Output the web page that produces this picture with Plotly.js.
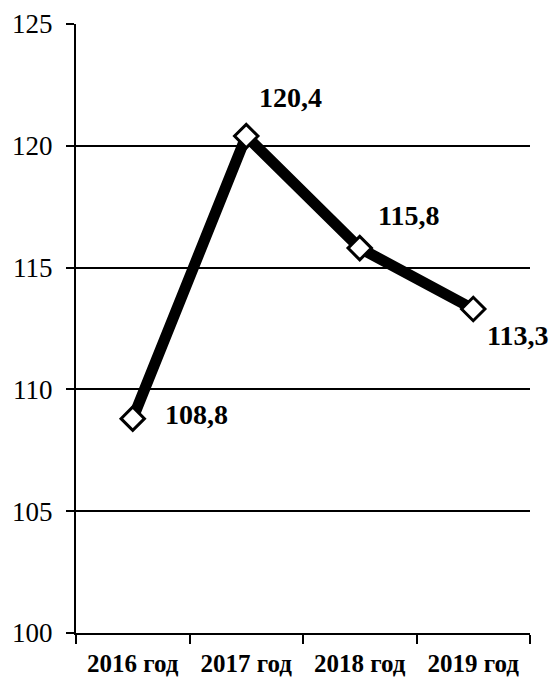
<!DOCTYPE html>
<html>
<head>
<meta charset="utf-8">
<script src="https://cdn.plot.ly/plotly-3.0.1.min.js"></script>
<style>html,body{margin:0;padding:0;background:#fff;}#chart{width:551px;height:679px;}</style>
</head>
<body>
<div id="chart"></div>
<script>
var categories = ["2016 год", "2017 год", "2018 год", "2019 год"];
var values = [108.8, 120.4, 115.8, 113.3];
var valueLabels = ["108,8", "120,4", "115,8", "113,3"];
var yTicks = [100, 105, 110, 115, 120, 125];

var labelOffsets = [[64, 4], [44, 39], [49, 33], [44, -26]];

var trace = {
  x: categories,
  y: values,
  type: "scatter",
  mode: "lines+markers",
  line: {color: "#000", width: 11},
  marker: {symbol: "diamond", size: 18, color: "#fff", line: {color: "#000", width: 3}},
  hoverinfo: "none"
};

var annotations = categories.map(function (c, i) {
  return {
    x: c, y: values[i], xref: "x", yref: "y",
    text: valueLabels[i], showarrow: false,
    xshift: labelOffsets[i][0], yshift: labelOffsets[i][1],
    font: {family: "Liberation Serif, Times New Roman, serif", size: 28, color: "#000", weight: "bold"}
  };
});

var layout = {
  width: 551, height: 679,
  margin: {l: 76, r: 21, t: 24, b: 46},
  paper_bgcolor: "#fff", plot_bgcolor: "#fff",
  showlegend: false,
  xaxis: {
    type: "category",
    range: [-0.5, 3.5],
    showgrid: false,
    showline: true, linecolor: "#000", linewidth: 2,
    ticks: "outside", tickcolor: "#000", ticklen: 9, tickwidth: 2,
    tickson: "boundaries",
    ticklabelstandoff: 7,
    tickfont: {family: "Liberation Serif, Times New Roman, serif", size: 25, color: "#000", weight: "bold"},
    fixedrange: true
  },
  yaxis: {
    range: [100, 125],
    tickvals: yTicks,
    ticktext: yTicks.map(String),
    showgrid: true, gridcolor: "#000", gridwidth: 2,
    zeroline: false,
    showline: true, linecolor: "#000", linewidth: 2,
    ticks: "outside", tickcolor: "#000", ticklen: 8, tickwidth: 2,
    ticklabelstandoff: 8,
    tickfont: {family: "Liberation Serif, Times New Roman, serif", size: 27, color: "#000"},
    fixedrange: true
  },
  annotations: annotations
};

Plotly.newPlot("chart", [trace], layout, {displayModeBar: false, staticPlot: true});
</script>
</body>
</html>
